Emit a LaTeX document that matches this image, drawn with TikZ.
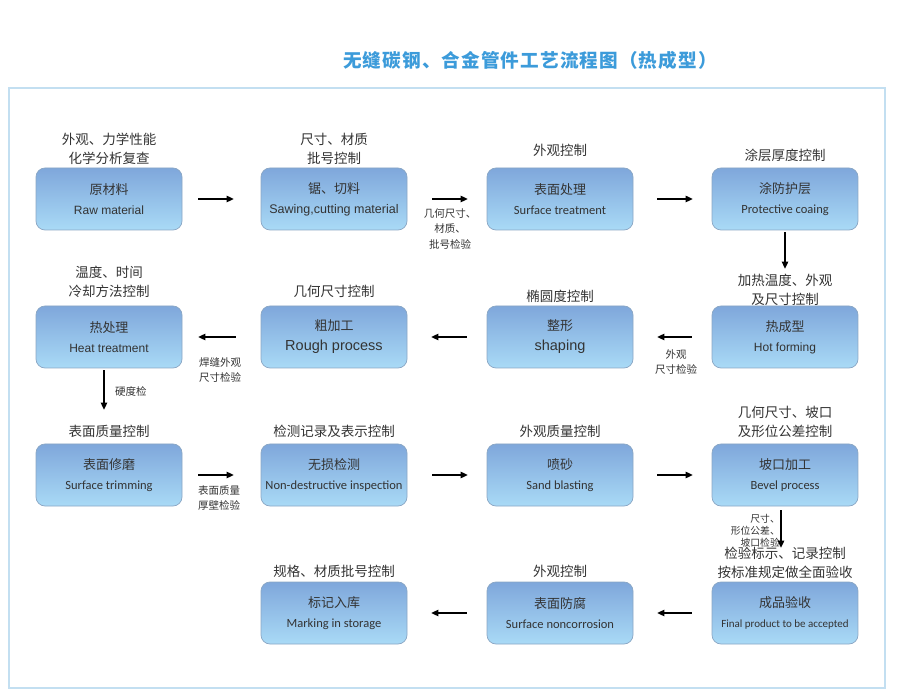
\documentclass[tikz,border=0pt]{standalone}
\usepackage{fontspec}
\newfontfamily\cjk{Noto Sans CJK SC}
\newfontfamily\cjktitle[LetterSpace=6]{Noto Sans CJK SC}
\newfontfamily\helv{Liberation Sans}
\newfontfamily\calib{Carlito}
\usetikzlibrary{arrows.meta}
\definecolor{boxtop}{HTML}{7FA7DB}
\definecolor{boxbot}{HTML}{A9DAF6}
\definecolor{boxedge}{HTML}{8AA6C4}
\definecolor{framec}{HTML}{C3DFF1}
\definecolor{titlec}{HTML}{3C9BDA}
\definecolor{txt}{HTML}{333333}
\tikzset{
  x=1pt, y=-1pt,
  procbox/.style={rectangle, rounded corners=9pt, minimum width=146pt, minimum height=62pt,
    top color=boxtop, bottom color=boxbot, draw=boxedge, line width=0.7pt,
    align=center, text=txt, inner sep=0pt, font=\fontsize{12}{20}\selectfont},
  ctl/.style={align=center, text=txt, inner sep=0pt, font=\cjk\fontsize{13.5}{18.5}\selectfont},
  small/.style={align=center, text=txt, inner sep=0pt, font=\cjk\fontsize{10.5}{15.5}\selectfont},
  flow/.style={line width=1.1pt, draw=black, -{Triangle[length=7pt,width=6.5pt]}},
}
\begin{document}
\begin{tikzpicture}
\useasboundingbox (0,0) rectangle (900,692);
\draw[framec, line width=1.5pt] (9,88) rectangle (885,688);
\node[text=titlec, inner sep=0pt, font=\cjktitle\bfseries\fontsize{18.6}{18.6}\selectfont] (title) at (530,60) {无缝碳钢、合金管件工艺流程图（热成型）};

% row 1
\node[procbox] (b1) at (109,199) {{\cjk\fontsize{13}{13}\selectfont 原材料}\\{\helv Raw material}};
\node[procbox] (b2) at (334,199) {{\cjk\fontsize{13}{13}\selectfont 锯、切料}\\{\helv\fontsize{12.5}{13}\selectfont Sawing,cutting material}};
\node[procbox] (b3) at (560,199) {{\cjk\fontsize{13}{13}\selectfont 表面处理}\\{\calib\fontsize{12.5}{13}\selectfont Surface treatment}};
\node[procbox] (b4) at (785,199) {{\cjk\fontsize{13}{13}\selectfont 涂防护层}\\{\calib\fontsize{12.5}{13}\selectfont Protective coaing}};
% row 2
\node[procbox] (c4) at (785,337) {{\cjk\fontsize{13}{13}\selectfont 热成型}\\{\helv Hot forming}};
\node[procbox] (c3) at (560,337) {{\cjk\fontsize{13}{13}\selectfont 整形}\\{\helv\fontsize{14.5}{13}\selectfont shaping}};
\node[procbox] (c2) at (334,337) {{\cjk\fontsize{13}{13}\selectfont 粗加工}\\{\helv\fontsize{14.5}{13}\selectfont Rough process}};
\node[procbox] (c1) at (109,337) {{\cjk\fontsize{13}{13}\selectfont 热处理}\\{\helv Heat treatment}};
% row 3
\node[procbox] (d1) at (109,475) {{\cjk\fontsize{13}{13}\selectfont 表面修磨}\\{\calib\fontsize{12.5}{13}\selectfont Surface trimming}};
\node[procbox] (d2) at (334,475) {{\cjk\fontsize{13}{13}\selectfont 无损检测}\\{\calib\fontsize{12.5}{13}\selectfont Non-destructive inspection}};
\node[procbox] (d3) at (560,475) {{\cjk\fontsize{13}{13}\selectfont 喷砂}\\{\calib\fontsize{12.5}{13}\selectfont Sand blasting}};
\node[procbox] (d4) at (785,475) {{\cjk\fontsize{13}{13}\selectfont 坡口加工}\\{\calib\fontsize{12.5}{13}\selectfont Bevel process}};
% row 4
\node[procbox] (e4) at (785,613) {{\cjk\fontsize{13}{13}\selectfont 成品验收}\\{\calib\fontsize{11}{13}\selectfont Final product to be accepted}};
\node[procbox] (e3) at (560,613) {{\cjk\fontsize{13}{13}\selectfont 表面防腐}\\{\calib\fontsize{12.5}{13}\selectfont Surface noncorrosion}};
\node[procbox] (e2) at (334,613) {{\cjk\fontsize{13}{13}\selectfont 标记入库}\\{\calib\fontsize{12.5}{13}\selectfont Marking in storage}};

% control labels
\node[ctl] (l1) at (109,149) {外观、力学性能\\化学分析复查};
\node[ctl] (l2) at (334,149) {尺寸、材质\\批号控制};
\node[ctl] (l3) at (560,150) {外观控制};
\node[ctl] (l4) at (785,155) {涂层厚度控制};
\node[ctl] (m1) at (109,282) {温度、时间\\冷却方法控制};
\node[ctl] (m2) at (334,291) {几何尺寸控制};
\node[ctl] (m3) at (560,296) {椭圆度控制};
\node[ctl] (m4) at (785,290) {加热温度、外观\\及尺寸控制};
\node[ctl] (n1) at (109,431) {表面质量控制};
\node[ctl] (n2) at (334,431) {检测记录及表示控制};
\node[ctl] (n3) at (560,431) {外观质量控制};
\node[ctl] (n4) at (785,422) {几何尺寸、坡口\\及形位公差控制};
\node[ctl] (o2) at (334,571) {规格、材质批号控制};
\node[ctl] (o3) at (560,571) {外观控制};
\node[ctl] (o4) at (785,563) {检验标示、记录控制\\按标准规定做全面验收};

% small check labels
\node[small] (s1) at (450,229) {几何尺寸、\\材质、\\批号检验};
\node[small] (s2) at (220,370) {焊缝外观\\尺寸检验};
\node[small] (s3) at (676,362) {外观\\尺寸检验};
\node[small, anchor=west] (s4) at (115,391) {硬度检};
\node[small] (s5) at (219,498) {表面质量\\厚壁检验};
\node[small, align=right, anchor=east, font=\cjk\fontsize{9.8}{12}\selectfont] (s6) at (780,531) {尺寸、\\形位公差、\\坡口检验};

% connectors
\draw[flow, shorten <=16pt, shorten >=27pt] (b1.east) -- (b2.west);
\draw[flow, shorten <=25pt, shorten >=19pt] (b2.east) -- (b3.west);
\draw[flow, shorten <=24pt, shorten >=19pt] (b3.east) -- (b4.west);
\draw[flow, shorten <=2pt, shorten >=37pt] (b4.south) -- (c4.north);
\draw[flow, shorten <=20pt, shorten >=24pt] (c4.west) -- (c3.east);
\draw[flow, shorten <=20pt, shorten >=24pt] (c3.west) -- (c2.east);
\draw[flow, shorten <=25pt, shorten >=16pt] (c2.west) -- (c1.east);
\draw[flow, shorten <=2pt, shorten >=34pt] ([xshift=-5pt]c1.south) -- ([xshift=-5pt]d1.north);
\draw[flow, shorten <=16pt, shorten >=27pt] (d1.east) -- (d2.west);
\draw[flow, shorten <=25pt, shorten >=19pt] (d2.east) -- (d3.west);
\draw[flow, shorten <=24pt, shorten >=19pt] (d3.east) -- (d4.west);
\draw[flow, shorten <=4pt, shorten >=34pt] ([xshift=-4pt]d4.south) -- ([xshift=-4pt]e4.north);
\draw[flow, shorten <=20pt, shorten >=24pt] (e4.west) -- (e3.east);
\draw[flow, shorten <=20pt, shorten >=24pt] (e3.west) -- (e2.east);
\end{tikzpicture}
\end{document}
